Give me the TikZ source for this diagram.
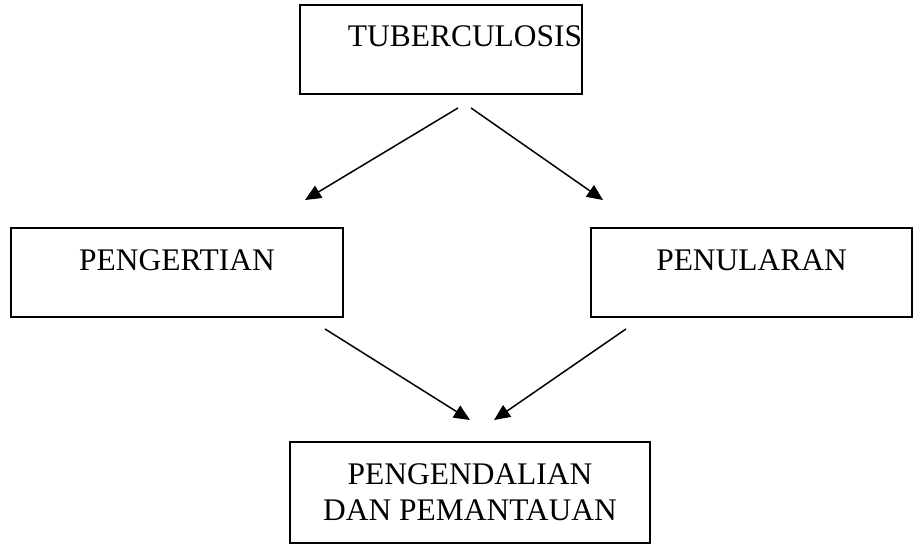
\documentclass[tikz,border=0pt]{standalone}
\usepackage{fontspec}
\setmainfont{Liberation Serif}
\usetikzlibrary{arrows.meta,positioning}

\begin{document}
\begin{tikzpicture}[
  box/.style={draw,rectangle,line width=1.1pt,inner sep=0pt,text height=0.84cm,text depth=0.94cm,font=\fontsize{17.9}{20.5}\selectfont},
  arr/.style={-{Triangle[length=0.32cm,width=0.28cm]},line width=0.85pt}]

\useasboundingbox (0,0) rectangle (18.28,-10.92);

% Top: topic
\node[box,minimum width=5.52cm] (tb) at (8.82,-0.99) {\hspace*{0.96cm}TUBERCULOSIS};

% Middle: two sub topics
\node[box,minimum width=6.64cm] (pg) at (3.54,-5.45) {PENGERTIAN};
\node[box,minimum width=6.42cm] (pl) at (15.03,-5.45) {PENULARAN};

% Bottom: result
\node[draw,rectangle,line width=1.1pt,minimum width=7.2cm,minimum height=2.02cm,align=center,
  font=\fontsize{17.9}{20.5}\selectfont] (pp) at (9.4,-9.85) {PENGENDALIAN\\DAN PEMANTAUAN};

% Arrow ends
\coordinate (t1) at ([xshift=0.34cm,yshift=-0.26cm]tb.south);
\coordinate (t2) at ([xshift=0.60cm,yshift=-0.26cm]tb.south);
\coordinate (g1) at ([xshift=2.56cm,yshift=0.54cm]pg.north);
\coordinate (l1) at ([xshift=-2.97cm,yshift=0.54cm]pl.north);
\coordinate (g2) at ([xshift=2.96cm,yshift=-0.22cm]pg.south);
\coordinate (l2) at ([xshift=-2.51cm,yshift=-0.22cm]pl.south);
\coordinate (p1) at ([yshift=0.42cm]pp.north);
\coordinate (p2) at ([xshift=0.48cm,yshift=0.42cm]pp.north);

% Arrows
\draw[arr] (t1) -- (g1);
\draw[arr] (t2) -- (l1);
\draw[arr] (g2) -- (p1);
\draw[arr] (l2) -- (p2);

\end{tikzpicture}
\end{document}
